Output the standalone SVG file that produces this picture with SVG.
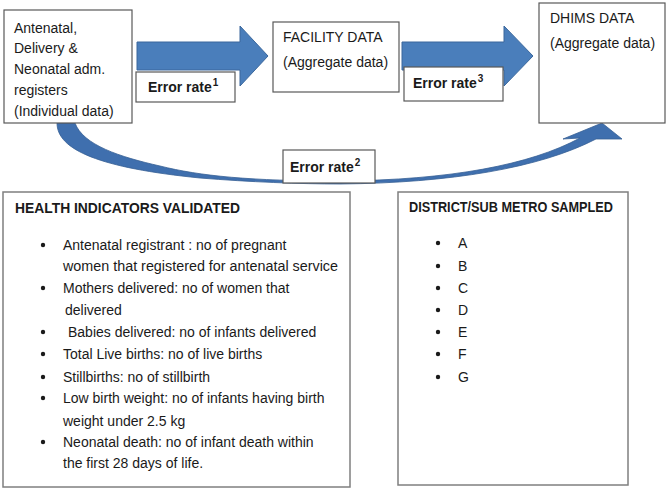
<svg xmlns="http://www.w3.org/2000/svg" width="669" height="489" viewBox="0 0 669 489">
<style>
.box{fill:#fff;stroke:#595959;stroke-width:1.2}
.pbox{fill:#fff;stroke:#7f7f7f;stroke-width:1.5}
.t{font-family:"Liberation Sans",Arial,sans-serif;font-size:14px;fill:#1a1a1a}
.b{font-family:"Liberation Sans",Arial,sans-serif;font-size:14px;font-weight:bold;fill:#1a1a1a}
.sup{font-size:10px}
.arrow{fill:#4a7ebb;stroke:#3a679c;stroke-width:1}
.curve{fill:#3f6fae;stroke:#365f94;stroke-width:0.8}
</style>
<rect width="669" height="489" fill="#fff"/>
<g id="connectors">
  <path class="arrow" d="M137,42 L240,42 L240,26 L268,56 L240,86 L240,70 L137,70 Z"/>
  <path class="arrow" d="M402,42 L504,42 L504,26 L533,56 L504,86 L504,70 L402,70 Z"/>
  <path class="curve" d="M57,123 C57,150 100,168 200,178 C250,182 300,184 340,184 C450,183 540,168 596,139 L622,139 L602,123 L563,139 L580,138 C530,165 450,180 340,181 C250,181 200,176 160,166 C120,157 83,145 75,123 Z"/>
</g>
<g id="node-registers">
  <rect class="box" x="4" y="10" width="128" height="113"/>
  <text class="t" x="14" y="33">Antenatal,</text>
  <text class="t" x="14" y="53">Delivery &amp;</text>
  <text class="t" x="14" y="74">Neonatal adm.</text>
  <text class="t" x="14" y="95">registers</text>
  <text class="t" x="14" y="116">(Individual data)</text>
</g>
<g id="node-facility">
  <rect class="box" x="273" y="22" width="126" height="70"/>
  <text class="t" x="283" y="42">FACILITY DATA</text>
  <text class="t" x="283" y="67">(Aggregate data)</text>
</g>
<g id="node-dhims">
  <rect class="box" x="539" y="3" width="126" height="120"/>
  <text class="t" x="550" y="23">DHIMS DATA</text>
  <text class="t" x="550" y="48">(Aggregate data)</text>
</g>
<g id="label-error1">
  <rect class="box" x="136" y="72" width="99" height="30"/>
  <text class="b" x="148" y="92">Error rate<tspan class="sup" dx="1" dy="-6">1</tspan></text>
</g>
<g id="label-error3">
  <rect class="box" x="404" y="67" width="99" height="34"/>
  <text class="b" x="413" y="88">Error rate<tspan class="sup" dx="1" dy="-6">3</tspan></text>
</g>
<g id="label-error2">
  <rect class="box" x="283" y="150" width="92" height="33"/>
  <text class="b" x="290" y="172">Error rate<tspan class="sup" dx="1" dy="-6">2</tspan></text>
</g>
<g id="node-indicators">
  <rect class="pbox" x="3" y="192" width="347" height="295"/>
  <text class="b" x="15" y="213" font-size="13" textLength="225" lengthAdjust="spacingAndGlyphs">HEALTH INDICATORS VALIDATED</text>
  <g fill="#1a1a1a">
    <circle cx="43" cy="245" r="2.2"/>
    <circle cx="43" cy="288" r="2.2"/>
    <circle cx="43" cy="332" r="2.2"/>
    <circle cx="43" cy="354" r="2.2"/>
    <circle cx="43" cy="377" r="2.2"/>
    <circle cx="43" cy="398" r="2.2"/>
    <circle cx="43" cy="442" r="2.2"/>
  </g>
  <text class="t" x="63" y="250">Antenatal registrant : no of pregnant</text>
  <text class="t" x="63" y="271" textLength="275" lengthAdjust="spacingAndGlyphs">women that registered for antenatal service</text>
  <text class="t" x="63" y="293">Mothers delivered: no of women that</text>
  <text class="t" x="65" y="315">delivered</text>
  <text class="t" x="68" y="337">Babies delivered: no of infants delivered</text>
  <text class="t" x="63" y="359">Total Live births: no of live births</text>
  <text class="t" x="63" y="382">Stillbirths: no of stillbirth</text>
  <text class="t" x="63" y="403">Low birth weight: no of infants having birth</text>
  <text class="t" x="63" y="426">weight under 2.5 kg</text>
  <text class="t" x="63" y="447">Neonatal death: no of infant death within</text>
  <text class="t" x="63" y="468">the first 28 days of life.</text>
</g>
<g id="node-districts">
  <rect class="pbox" x="398" y="192" width="230" height="293"/>
  <text class="b" x="409" y="212" font-size="13" textLength="204" lengthAdjust="spacingAndGlyphs">DISTRICT/SUB METRO SAMPLED</text>
  <g fill="#1a1a1a">
    <circle cx="438" cy="243" r="2.2"/>
    <circle cx="438" cy="266" r="2.2"/>
    <circle cx="438" cy="288" r="2.2"/>
    <circle cx="438" cy="310" r="2.2"/>
    <circle cx="438" cy="332" r="2.2"/>
    <circle cx="438" cy="354" r="2.2"/>
    <circle cx="438" cy="377" r="2.2"/>
  </g>
  <text class="t" x="458" y="248">A</text>
  <text class="t" x="458" y="271">B</text>
  <text class="t" x="458" y="293">C</text>
  <text class="t" x="458" y="315">D</text>
  <text class="t" x="458" y="337">E</text>
  <text class="t" x="458" y="359">F</text>
  <text class="t" x="458" y="382">G</text>
</g>
</svg>
